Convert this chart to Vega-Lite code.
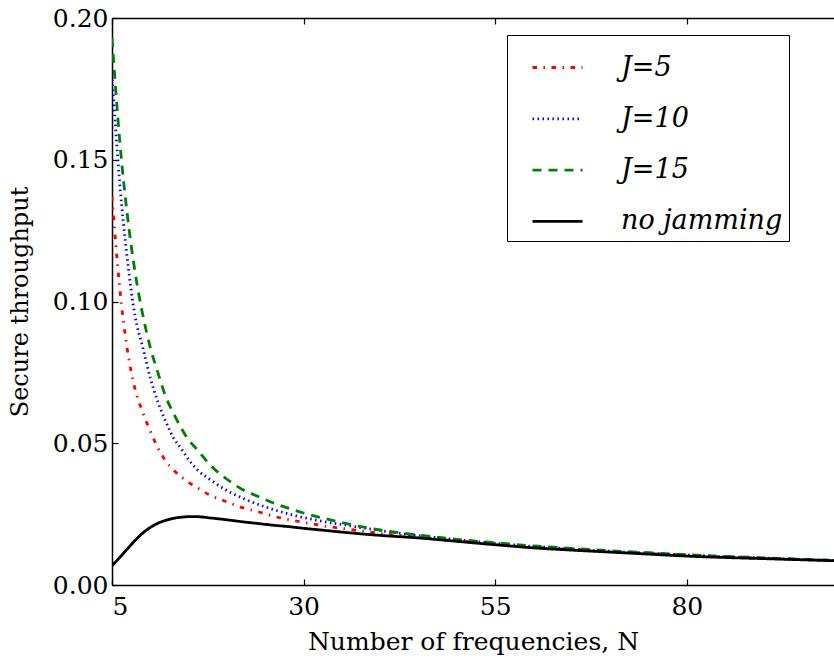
{
  "$schema": "https://vega.github.io/schema/vega-lite/v6.json",
  "autosize": {"type": "none"},
  "padding": {"left": 112, "top": 18, "right": 0, "bottom": 76},
  "width": 722,
  "height": 567,
  "background": "white",
  "view": {"stroke": null},
  "config": {
    "axis": {
      "grid": false,
      "domainColor": "black",
      "domainWidth": 1.5,
      "tickColor": "black",
      "tickWidth": 1.2,
      "labelColor": "black",
      "titleColor": "black",
      "labelFont": "DejaVu Serif",
      "titleFont": "DejaVu Serif",
      "titleFontWeight": "normal"
    },
    "legend": {
      "orient": "none",
      "legendX": 395,
      "legendY": 17,
      "strokeColor": "black",
      "fillColor": "white",
      "padding": 6,
      "cornerRadius": 0,
      "symbolType": "stroke",
      "symbolSize": 2500,
      "symbolStrokeWidth": 3,
      "symbolOffset": 18,
      "labelFont": "DejaVu Serif",
      "labelFontStyle": "italic",
      "labelFontSize": 27,
      "labelLimit": 400,
      "labelColor": "black",
      "labelOffset": 37,
      "rowPadding": 11.3,
      "title": null
    }
  },
  "data": {
    "values": [
      {"N": 5, "v": 0.137, "s": "J=5"},
      {"N": 6, "v": 0.105, "s": "J=5"},
      {"N": 7, "v": 0.083, "s": "J=5"},
      {"N": 8, "v": 0.0692, "s": "J=5"},
      {"N": 9, "v": 0.061, "s": "J=5"},
      {"N": 10, "v": 0.0543, "s": "J=5"},
      {"N": 11, "v": 0.0483, "s": "J=5"},
      {"N": 12, "v": 0.0438, "s": "J=5"},
      {"N": 13, "v": 0.0406, "s": "J=5"},
      {"N": 14, "v": 0.0382, "s": "J=5"},
      {"N": 15, "v": 0.0362, "s": "J=5"},
      {"N": 16, "v": 0.0345, "s": "J=5"},
      {"N": 18, "v": 0.0314, "s": "J=5"},
      {"N": 20, "v": 0.0293, "s": "J=5"},
      {"N": 22, "v": 0.0273, "s": "J=5"},
      {"N": 24, "v": 0.0259, "s": "J=5"},
      {"N": 26, "v": 0.0243, "s": "J=5"},
      {"N": 28, "v": 0.0231, "s": "J=5"},
      {"N": 30, "v": 0.0221, "s": "J=5"},
      {"N": 33, "v": 0.0207, "s": "J=5"},
      {"N": 36, "v": 0.0196, "s": "J=5"},
      {"N": 40, "v": 0.0182, "s": "J=5"},
      {"N": 45, "v": 0.0168, "s": "J=5"},
      {"N": 50, "v": 0.0156, "s": "J=5"},
      {"N": 55, "v": 0.0145, "s": "J=5"},
      {"N": 60, "v": 0.0134, "s": "J=5"},
      {"N": 65, "v": 0.0125, "s": "J=5"},
      {"N": 70, "v": 0.0118, "s": "J=5"},
      {"N": 75, "v": 0.0111, "s": "J=5"},
      {"N": 80, "v": 0.0105, "s": "J=5"},
      {"N": 85, "v": 0.0099, "s": "J=5"},
      {"N": 90, "v": 0.0094, "s": "J=5"},
      {"N": 95, "v": 0.009, "s": "J=5"},
      {"N": 100, "v": 0.0085, "s": "J=5"},

      {"N": 5, "v": 0.18, "s": "J=10"},
      {"N": 6, "v": 0.142, "s": "J=10"},
      {"N": 7, "v": 0.115, "s": "J=10"},
      {"N": 8, "v": 0.095, "s": "J=10"},
      {"N": 9, "v": 0.084, "s": "J=10"},
      {"N": 10, "v": 0.073, "s": "J=10"},
      {"N": 11, "v": 0.0645, "s": "J=10"},
      {"N": 12, "v": 0.0577, "s": "J=10"},
      {"N": 13, "v": 0.052, "s": "J=10"},
      {"N": 14, "v": 0.0482, "s": "J=10"},
      {"N": 15, "v": 0.0442, "s": "J=10"},
      {"N": 16, "v": 0.041, "s": "J=10"},
      {"N": 18, "v": 0.0368, "s": "J=10"},
      {"N": 20, "v": 0.0333, "s": "J=10"},
      {"N": 22, "v": 0.0307, "s": "J=10"},
      {"N": 24, "v": 0.0285, "s": "J=10"},
      {"N": 26, "v": 0.0267, "s": "J=10"},
      {"N": 28, "v": 0.0251, "s": "J=10"},
      {"N": 30, "v": 0.0238, "s": "J=10"},
      {"N": 33, "v": 0.0222, "s": "J=10"},
      {"N": 36, "v": 0.0209, "s": "J=10"},
      {"N": 40, "v": 0.0192, "s": "J=10"},
      {"N": 45, "v": 0.0174, "s": "J=10"},
      {"N": 50, "v": 0.016, "s": "J=10"},
      {"N": 55, "v": 0.0147, "s": "J=10"},
      {"N": 60, "v": 0.0136, "s": "J=10"},
      {"N": 65, "v": 0.0127, "s": "J=10"},
      {"N": 70, "v": 0.0119, "s": "J=10"},
      {"N": 75, "v": 0.0112, "s": "J=10"},
      {"N": 80, "v": 0.0106, "s": "J=10"},
      {"N": 85, "v": 0.01, "s": "J=10"},
      {"N": 90, "v": 0.0095, "s": "J=10"},
      {"N": 95, "v": 0.009, "s": "J=10"},
      {"N": 100, "v": 0.0086, "s": "J=10"},

      {"N": 5, "v": 0.193, "s": "J=15"},
      {"N": 6, "v": 0.157, "s": "J=15"},
      {"N": 7, "v": 0.1305, "s": "J=15"},
      {"N": 8, "v": 0.1105, "s": "J=15"},
      {"N": 9, "v": 0.0955, "s": "J=15"},
      {"N": 10, "v": 0.0837, "s": "J=15"},
      {"N": 11, "v": 0.0748, "s": "J=15"},
      {"N": 12, "v": 0.0665, "s": "J=15"},
      {"N": 13, "v": 0.0607, "s": "J=15"},
      {"N": 14, "v": 0.0555, "s": "J=15"},
      {"N": 15, "v": 0.0512, "s": "J=15"},
      {"N": 16, "v": 0.0481, "s": "J=15"},
      {"N": 18, "v": 0.0418, "s": "J=15"},
      {"N": 20, "v": 0.0373, "s": "J=15"},
      {"N": 22, "v": 0.0337, "s": "J=15"},
      {"N": 24, "v": 0.0313, "s": "J=15"},
      {"N": 26, "v": 0.029, "s": "J=15"},
      {"N": 28, "v": 0.0271, "s": "J=15"},
      {"N": 30, "v": 0.0254, "s": "J=15"},
      {"N": 33, "v": 0.0233, "s": "J=15"},
      {"N": 36, "v": 0.0214, "s": "J=15"},
      {"N": 40, "v": 0.0194, "s": "J=15"},
      {"N": 45, "v": 0.0176, "s": "J=15"},
      {"N": 50, "v": 0.0161, "s": "J=15"},
      {"N": 55, "v": 0.0149, "s": "J=15"},
      {"N": 60, "v": 0.0138, "s": "J=15"},
      {"N": 65, "v": 0.0129, "s": "J=15"},
      {"N": 70, "v": 0.0121, "s": "J=15"},
      {"N": 75, "v": 0.0114, "s": "J=15"},
      {"N": 80, "v": 0.0107, "s": "J=15"},
      {"N": 85, "v": 0.0101, "s": "J=15"},
      {"N": 90, "v": 0.0096, "s": "J=15"},
      {"N": 95, "v": 0.0091, "s": "J=15"},
      {"N": 100, "v": 0.0087, "s": "J=15"},

      {"N": 5, "v": 0.0068, "s": "no jamming"},
      {"N": 6, "v": 0.0097, "s": "no jamming"},
      {"N": 7, "v": 0.0127, "s": "no jamming"},
      {"N": 8, "v": 0.0157, "s": "no jamming"},
      {"N": 9, "v": 0.0183, "s": "no jamming"},
      {"N": 10, "v": 0.0203, "s": "no jamming"},
      {"N": 11, "v": 0.0218, "s": "no jamming"},
      {"N": 12, "v": 0.0228, "s": "no jamming"},
      {"N": 13, "v": 0.0235, "s": "no jamming"},
      {"N": 14, "v": 0.0239, "s": "no jamming"},
      {"N": 15, "v": 0.0241, "s": "no jamming"},
      {"N": 16, "v": 0.0241, "s": "no jamming"},
      {"N": 18, "v": 0.0236, "s": "no jamming"},
      {"N": 20, "v": 0.023, "s": "no jamming"},
      {"N": 22, "v": 0.0223, "s": "no jamming"},
      {"N": 24, "v": 0.0217, "s": "no jamming"},
      {"N": 26, "v": 0.0211, "s": "no jamming"},
      {"N": 28, "v": 0.0206, "s": "no jamming"},
      {"N": 30, "v": 0.02, "s": "no jamming"},
      {"N": 33, "v": 0.0192, "s": "no jamming"},
      {"N": 36, "v": 0.0184, "s": "no jamming"},
      {"N": 40, "v": 0.0175, "s": "no jamming"},
      {"N": 45, "v": 0.0166, "s": "no jamming"},
      {"N": 50, "v": 0.0154, "s": "no jamming"},
      {"N": 55, "v": 0.0142, "s": "no jamming"},
      {"N": 60, "v": 0.0131, "s": "no jamming"},
      {"N": 65, "v": 0.0123, "s": "no jamming"},
      {"N": 70, "v": 0.0116, "s": "no jamming"},
      {"N": 75, "v": 0.0109, "s": "no jamming"},
      {"N": 80, "v": 0.0102, "s": "no jamming"},
      {"N": 85, "v": 0.0097, "s": "no jamming"},
      {"N": 90, "v": 0.0093, "s": "no jamming"},
      {"N": 95, "v": 0.0089, "s": "no jamming"},
      {"N": 100, "v": 0.0085, "s": "no jamming"}
    ]
  },
  "layer": [
    {
      "mark": {"type": "line", "interpolate": "monotone", "strokeWidth": 2.8, "clip": true},
      "encoding": {
        "x": {
          "field": "N", "type": "quantitative",
          "scale": {"domain": [5, 99.2], "nice": false, "zero": false},
          "axis": {
            "values": [5, 30, 55, 80],
            "tickSize": -6,
            "labelPadding": 15,
            "labelFontSize": 25,
            "title": "Number of frequencies, N",
            "titleFontSize": 25,
            "titlePadding": 10
          }
        },
        "y": {
          "field": "v", "type": "quantitative",
          "scale": {"domain": [0, 0.2], "nice": false},
          "axis": {
            "values": [0, 0.05, 0.1, 0.15, 0.2],
            "format": ".2f",
            "tickSize": -6,
            "labelPadding": 10,
            "labelFontSize": 25,
            "title": "Secure throughput",
            "titleFontSize": 24,
            "titlePadding": 20
          }
        },
        "color": {
          "field": "s", "type": "nominal",
          "scale": {"domain": ["J=5", "J=10", "J=15", "no jamming"], "range": ["#ff0000", "#0000ff", "#008000", "#000000"]},
          "legend": {"title": null}
        },
        "strokeDash": {
          "field": "s", "type": "nominal",
          "scale": {"domain": ["J=5", "J=10", "J=15", "no jamming"], "range": [[4.5, 6.5, 1.5, 6.5], [1.5, 3.5], [9, 7], [1, 0]]},
          "legend": {"title": null}
        },
        "strokeWidth": {
          "field": "s", "type": "nominal",
          "scale": {"domain": ["J=5", "J=10", "J=15", "no jamming"], "range": [2.8, 2.6, 2.8, 3.4]},
          "legend": null
        }
      }
    },
    {
      "mark": {"type": "line", "opacity": 0},
      "encoding": {
        "x": {
          "field": "N", "type": "quantitative",
          "scale": {"domain": [5, 99.2], "nice": false, "zero": false},
          "axis": {"orient": "top", "values": [5, 30, 55, 80], "tickSize": -6, "labels": false, "title": null}
        },
        "y": {"field": "v", "type": "quantitative", "axis": null}
      }
    }
  ],
  "resolve": {"axis": {"x": "independent", "y": "independent"}}
}
